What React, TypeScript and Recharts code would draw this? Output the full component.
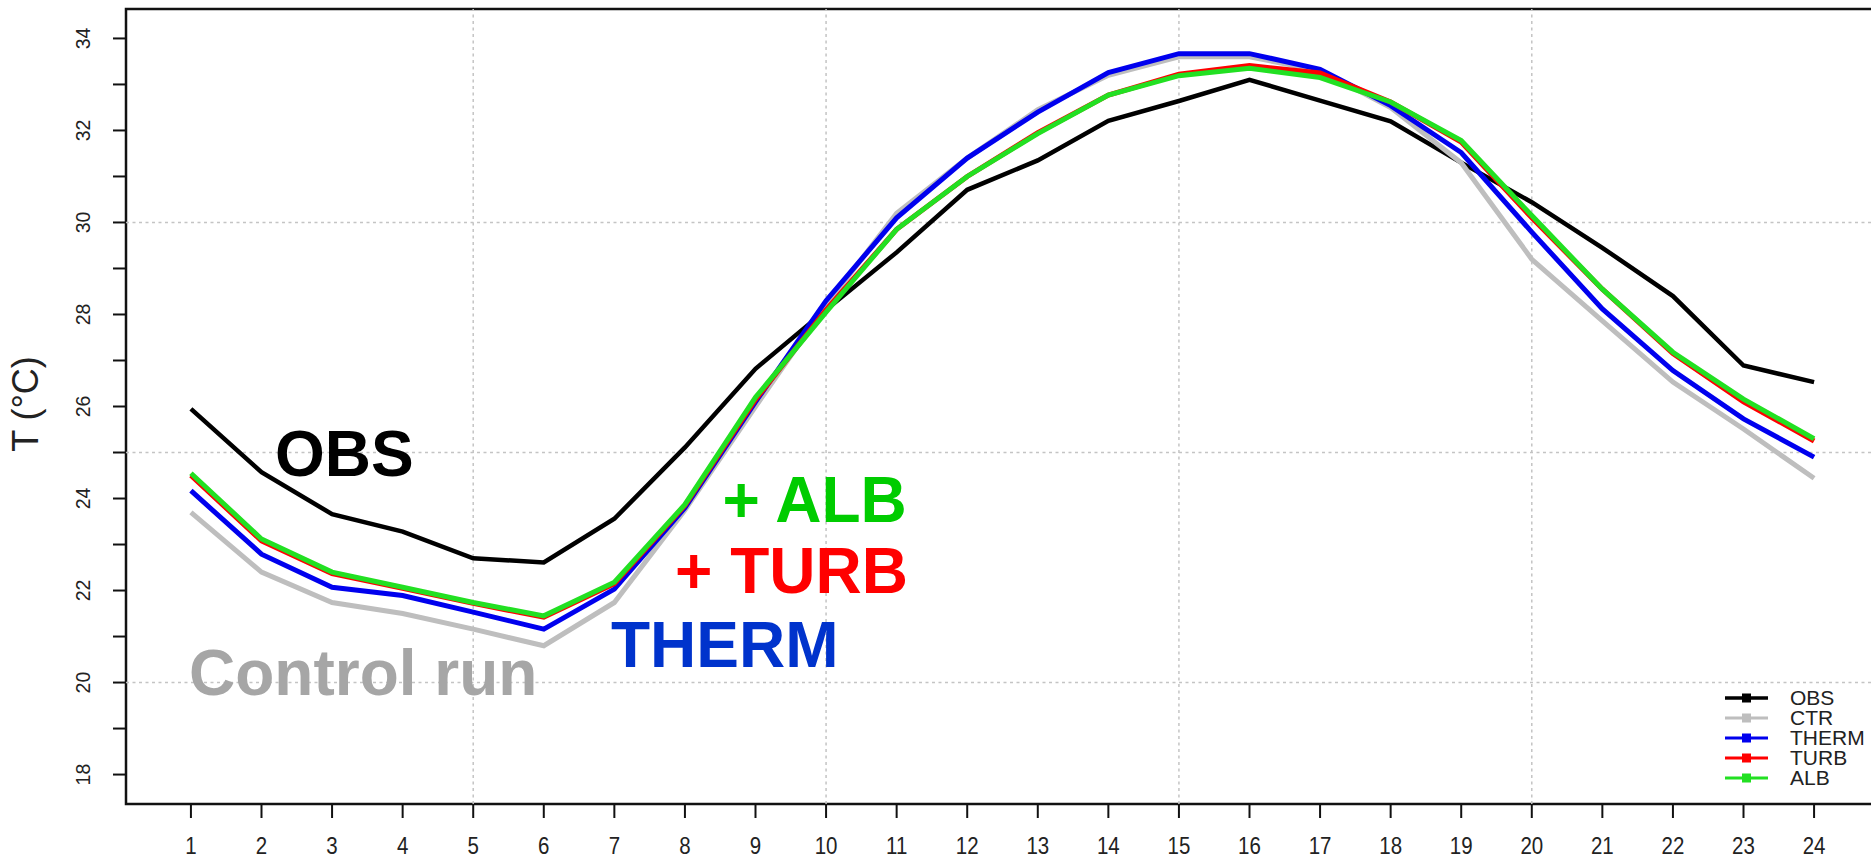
import { LineChart, Line, XAxis, YAxis, ReferenceLine, ReferenceArea } from 'recharts';

const HOURS = [1, 2, 3, 4, 5, 6, 7, 8, 9, 10, 11, 12, 13, 14, 15, 16, 17, 18, 19, 20, 21, 22, 23, 24];

// hourly mean 2 m temperature (°C)
const OBS = [25.95, 24.57, 23.66, 23.28, 22.7, 22.61, 23.56, 25.11, 26.82, 28.1, 29.35, 30.71, 31.35, 32.21, 32.64, 33.1, 32.65, 32.2, 31.3, 30.44, 29.45, 28.4, 26.89, 26.53];
const CTR = [23.7, 22.4, 21.74, 21.5, 21.16, 20.8, 21.74, 23.75, 26.0, 28.2, 30.2, 31.4, 32.45, 33.2, 33.6, 33.6, 33.3, 32.5, 31.3, 29.2, 27.86, 26.53, 25.51, 24.44];
const THERM = [24.17, 22.79, 22.07, 21.89, 21.53, 21.16, 22.03, 23.8, 26.1, 28.3, 30.1, 31.4, 32.4, 33.26, 33.67, 33.67, 33.33, 32.54, 31.52, 29.79, 28.12, 26.78, 25.73, 24.9];
const TURB = [24.5, 23.08, 22.37, 22.05, 21.72, 21.42, 22.15, 23.85, 26.15, 28.1, 29.85, 31.0, 31.95, 32.77, 33.22, 33.41, 33.25, 32.62, 31.75, 30.1, 28.55, 27.15, 26.1, 25.25];
const ALB = [24.55, 23.12, 22.4, 22.07, 21.74, 21.45, 22.18, 23.87, 26.2, 28.05, 29.85, 31.0, 31.93, 32.77, 33.19, 33.35, 33.15, 32.62, 31.78, 30.15, 28.55, 27.18, 26.16, 25.3];

const Y_TICKS = [18, 19, 20, 21, 22, 23, 24, 25, 26, 27, 28, 29, 30, 31, 32, 33, 34];
const X_GRID = [5, 10, 15, 20];
const Y_GRID = [20, 25, 30];

// R style axis range (4% padding)
const X_MIN = 0.08;
const X_MAX = 24.92;
const Y_MIN = 17.36;
const Y_MAX = 34.64;

const SERIES = [
  { key: 'obs', name: 'OBS', color: '#000000', width: 4.5 },
  { key: 'ctr', name: 'CTR', color: '#BEBEBE', width: 5 },
  { key: 'therm', name: 'THERM', color: '#0000EE', width: 5 },
  { key: 'turb', name: 'TURB', color: '#FF0000', width: 5 },
  { key: 'alb', name: 'ALB', color: '#22E022', width: 5 },
];

const data = HOURS.map((h, i) => ({
  hour: h,
  obs: OBS[i],
  ctr: CTR[i],
  therm: THERM[i],
  turb: TURB[i],
  alb: ALB[i],
}));

const FONT = "'Liberation Sans', Arial, sans-serif";

const XTick = (props: any) => {
  const { x, payload } = props;
  return (
    <text
      transform={`translate(${x},853.5) scale(1,1.2)`}
      textAnchor="middle"
      fontSize={20.5}
      fontFamily={FONT}
      fill="#222"
    >
      {payload.value}
    </text>
  );
};

const YTick = (props: any) => {
  const { y, payload } = props;
  if (payload.value % 2 !== 0) return <g />;
  return (
    <text
      transform={`translate(90,${y}) rotate(-90)`}
      textAnchor="middle"
      fontSize={19.5}
      fontFamily={FONT}
      fill="#222"
    >
      {payload.value}
    </text>
  );
};

export default function App() {
  return (
    <div
      style={{
        position: 'fixed',
        left: 0,
        top: 0,
        width: 1871,
        height: 859,
        overflow: 'hidden',
        background: '#fff',
      }}
    >
      <LineChart width={1880} height={859} data={data} margin={{ top: 9, right: 1, bottom: 0, left: 0 }}>
        <XAxis
          dataKey="hour"
          type="number"
          domain={[X_MIN, X_MAX]}
          ticks={HOURS}
          interval={0}
          allowDataOverflow
          height={55}
          tickSize={14}
          axisLine={false}
          tickLine={{ stroke: '#111', strokeWidth: 2 }}
          tick={<XTick />}
        />
        <YAxis
          type="number"
          domain={[Y_MIN, Y_MAX]}
          ticks={Y_TICKS}
          interval={0}
          allowDataOverflow
          width={126}
          tickSize={13}
          axisLine={false}
          tickLine={{ stroke: '#111', strokeWidth: 2 }}
          tick={<YTick />}
        />
        {Y_GRID.map((v) => (
          <ReferenceLine key={`gy-${v}`} y={v} stroke="#c4c4c4" strokeWidth={1.5} strokeDasharray="3 3.5" />
        ))}
        {X_GRID.map((v) => (
          <ReferenceLine key={`gx-${v}`} x={v} stroke="#c4c4c4" strokeWidth={1.5} strokeDasharray="3 3.5" />
        ))}
        <ReferenceArea x1={X_MIN} x2={X_MAX} y1={Y_MIN} y2={Y_MAX} fill="none" stroke="#111" strokeWidth={2.5} />
        {SERIES.map((s) => (
          <Line
            key={s.key}
            type="linear"
            dataKey={s.key}
            stroke={s.color}
            strokeWidth={s.width}
            dot={false}
            isAnimationActive={false}
          />
        ))}
      </LineChart>

      {/* axis title and annotations */}
      <svg
        width={1871}
        height={859}
        style={{ position: 'absolute', left: 0, top: 0, pointerEvents: 'none' }}
        fontFamily={FONT}
      >
        <text transform="translate(38,404) rotate(-90)" textAnchor="middle" fontSize={36} fill="#222">
          T (°C)
        </text>
        <g fontWeight="bold" fontSize={64}>
          <text x={275} y={476} fill="#000000">OBS</text>
          <text x={722.5} y={521.7} fill="#00CC00">+ ALB</text>
          <text x={675} y={593.3} fill="#FF0000">+ TURB</text>
          <text x={611} y={667.3} fill="#0033CC">THERM</text>
          <text x={189} y={695} fill="#A6A6A6">Control run</text>
        </g>
      </svg>

      {/* legend */}
      <div style={{ position: 'absolute', left: 1725, top: 688, fontFamily: FONT }}>
        {SERIES.map((s) => (
          <div key={s.key} style={{ display: 'flex', alignItems: 'center', height: 20 }}>
            <svg width={43} height={20}>
              <line x1={0} x2={43} y1={10} y2={10} stroke={s.color} strokeWidth={s.key === 'obs' ? 3.5 : 3} />
              <rect x={17} y={5.5} width={9} height={9} fill={s.color} />
            </svg>
            <span style={{ marginLeft: 22, fontSize: 21, lineHeight: '20px', color: '#222' }}>{s.name}</span>
          </div>
        ))}
      </div>
    </div>
  );
}
